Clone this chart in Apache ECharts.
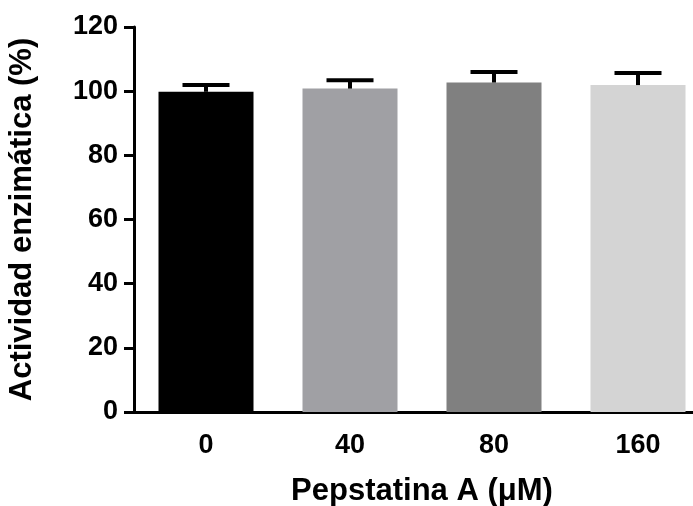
<!DOCTYPE html>
<html>
<head>
<meta charset="utf-8">
<script src="https://cdn.jsdelivr.net/npm/echarts@6/dist/echarts.min.js"></script>
<style>
html,body{margin:0;padding:0;background:#fff;}
#chart{width:693px;height:506px;}
</style>
</head>
<body>
<div id="chart"></div>
<script>
var categories = ['0', '40', '80', '160'];
var means = [99.8, 100.8, 102.7, 101.9];
var sds = [2.1, 2.6, 3.3, 3.8];
var barColors = ['#000000', '#a0a0a4', '#808080', '#d4d4d4'];
var yTicks = [0, 20, 40, 60, 80, 100, 120];

var FONT = '"Liberation Sans", Arial, sans-serif';
var chart = echarts.init(document.getElementById('chart'));
chart.setOption({
  animation: false,
  backgroundColor: '#fff',
  grid: { left: 134, top: 27, width: 576, height: 385, containLabel: false, outerBoundsMode: 'none' },
  xAxis: {
    type: 'category',
    data: categories,
    axisLine: { lineStyle: { color: '#000', width: 3 } },
    axisTick: { alignWithLabel: true, length: 10, lineStyle: { color: '#000', width: 3 } },
    axisLabel: { color: '#000', fontFamily: FONT, fontWeight: 'bold', fontSize: 27, margin: 20 },
    name: 'Pepstatina A (\u03bcM)',
    nameLocation: 'middle',
    nameGap: 64,
    nameTextStyle: { color: '#000', fontFamily: FONT, fontWeight: 'bold', fontSize: 31 }
  },
  yAxis: {
    type: 'value',
    min: yTicks[0],
    max: yTicks[yTicks.length - 1],
    interval: 20,
    axisLine: { show: true, lineStyle: { color: '#000', width: 3 } },
    axisTick: { show: true, length: 10, lineStyle: { color: '#000', width: 3 } },
    splitLine: { show: false },
    axisLabel: { color: '#000', fontFamily: FONT, fontWeight: 'bold', fontSize: 27, margin: 16 },
    name: 'Actividad enzim\u00e1tica (%)',
    nameLocation: 'middle',
    nameGap: 96,
    nameTextStyle: { color: '#000', fontFamily: FONT, fontWeight: 'bold', fontSize: 31 }
  },
  series: [
    {
      type: 'bar',
      barWidth: 95,
      data: means.map(function (v, i) { return { value: v, itemStyle: { color: barColors[i] } }; })
    },
    {
      type: 'custom',
      data: means.map(function (v, i) { return [i, v, v + sds[i]]; }),
      renderItem: function (params, api) {
        var base = api.coord([api.value(0), api.value(1)]);
        var top = api.coord([api.value(0), api.value(2)]);
        var half = 23.5;
        return {
          type: 'group',
          children: [
            { type: 'line', shape: { x1: top[0], y1: base[1], x2: top[0], y2: top[1] }, style: { stroke: '#000', lineWidth: 4 } },
            { type: 'line', shape: { x1: top[0] - half, y1: top[1], x2: top[0] + half, y2: top[1] }, style: { stroke: '#000', lineWidth: 4 } }
          ]
        };
      },
      z: 5
    }
  ]
});
</script>
</body>
</html>
